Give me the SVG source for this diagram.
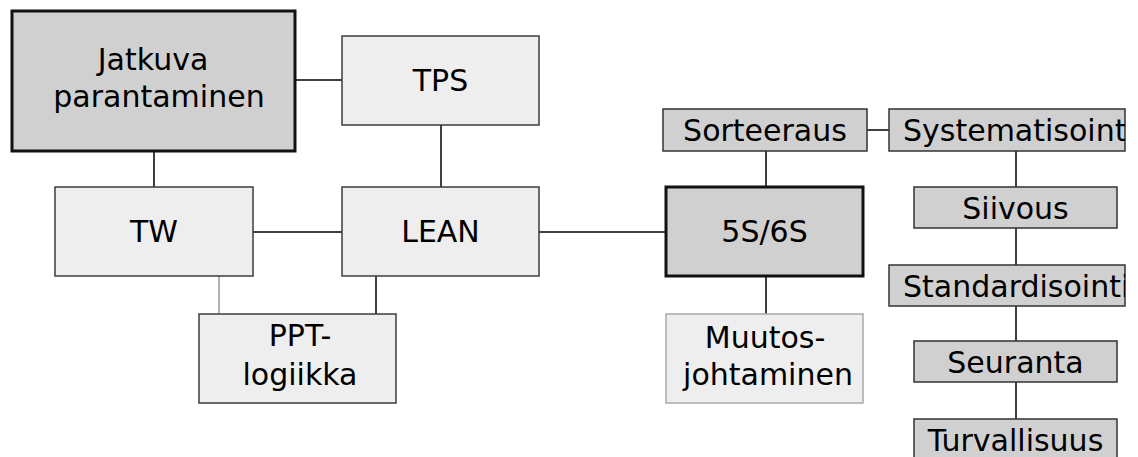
<svg xmlns="http://www.w3.org/2000/svg" width="1138" height="457" viewBox="0 0 1138 457">
<style>
.t{font-family:"DejaVu Sans",sans-serif;font-size:30px;fill:#000;text-anchor:middle}
.ts{font-family:"DejaVu Sans",sans-serif;font-size:30px;fill:#000;text-anchor:start}
.light{fill:#eeeeee;stroke:#3c3c3c;stroke-width:1.5}
.main{fill:#d0d0d0;stroke:#111;stroke-width:3}
.small{fill:#d0d0d0;stroke:#333;stroke-width:1.5}
.c{stroke:#000;stroke-width:1.5;fill:none}
.cg{stroke:#999;stroke-width:1.5;fill:none}
</style>
<defs>
<clipPath id="clipSys"><rect x="889" y="109" width="236" height="42"/></clipPath>
<clipPath id="clipStd"><rect x="889" y="265" width="236" height="41"/></clipPath>
</defs>
<rect width="1138" height="457" fill="#fff"/>
<g id="connectors">
<line class="c" x1="295" y1="80" x2="342" y2="80"/>
<line class="c" x1="154" y1="151" x2="154" y2="187"/>
<line class="c" x1="441" y1="125" x2="441" y2="187"/>
<line class="c" x1="253" y1="232" x2="342" y2="232"/>
<line class="cg" x1="219" y1="276" x2="219" y2="314"/>
<line class="c" x1="376" y1="276" x2="376" y2="314"/>
<line class="c" x1="539" y1="232" x2="666" y2="232"/>
<line class="c" x1="766" y1="151" x2="766" y2="187"/>
<line class="c" x1="766" y1="276" x2="766" y2="314"/>
<line class="c" x1="867" y1="130" x2="889" y2="130"/>
<line class="c" x1="1016" y1="151" x2="1016" y2="419"/>
</g>
<g id="jatkuva">
<rect class="main" x="12" y="11" width="283" height="140"/>
<text class="t" x="153" y="70">Jatkuva</text>
<text class="t" x="159" y="107">parantaminen</text>
</g>
<g id="tps">
<rect class="light" x="342" y="36" width="197" height="89"/>
<text class="t" x="440.5" y="91">TPS</text>
</g>
<g id="tw">
<rect class="light" x="55" y="187" width="198" height="89"/>
<text class="t" x="154" y="242">TW</text>
</g>
<g id="lean">
<rect class="light" x="342" y="187" width="197" height="89"/>
<text class="t" x="440.5" y="242">LEAN</text>
</g>
<g id="ppt">
<rect class="light" x="199" y="314" width="197" height="89"/>
<text class="t" x="300" y="346">PPT-</text>
<text class="t" x="300" y="385">logiikka</text>
</g>
<g id="s5s6">
<rect class="main" x="666" y="187" width="197" height="89"/>
<text class="t" x="764.5" y="242">5S/6S</text>
</g>
<g id="muutos">
<rect class="light" x="666" y="314" width="197" height="89" style="stroke:#aaa"/>
<text class="t" x="765" y="348">Muutos-</text>
<text class="t" x="768" y="385">johtaminen</text>
</g>
<g id="sorteeraus">
<rect class="small" x="663" y="109" width="204" height="42"/>
<text class="t" x="765" y="141">Sorteeraus</text>
</g>
<g id="systematisointi">
<rect class="small" x="889" y="109" width="236" height="42"/>
<text class="ts" x="903" y="141" clip-path="url(#clipSys)">Systematisointi</text>
</g>
<g id="siivous">
<rect class="small" x="914" y="187" width="203" height="41"/>
<text class="t" x="1015.5" y="219">Siivous</text>
</g>
<g id="standardisointi">
<rect class="small" x="889" y="265" width="236" height="41"/>
<text class="ts" x="903" y="297" clip-path="url(#clipStd)">Standardisointi</text>
</g>
<g id="seuranta">
<rect class="small" x="914" y="341" width="203" height="41"/>
<text class="t" x="1015.5" y="373">Seuranta</text>
</g>
<g id="turvallisuus">
<rect class="small" x="914" y="419" width="203" height="41"/>
<text class="t" x="1015.5" y="451">Turvallisuus</text>
</g>
</svg>
